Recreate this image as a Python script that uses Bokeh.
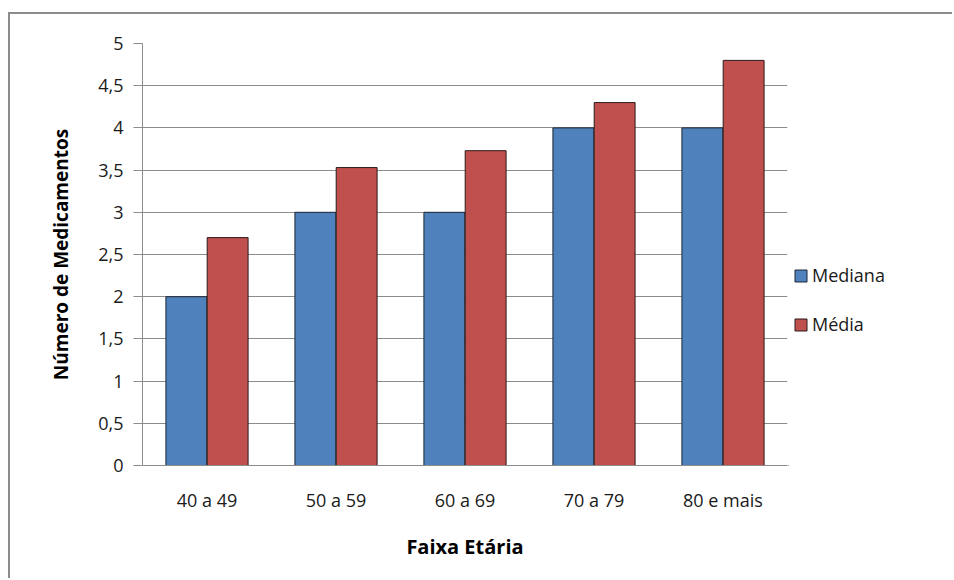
from bokeh.plotting import figure
from bokeh.layouts import row
from bokeh.models import (FactorRange, Range1d, FixedTicker, Legend, LegendItem,
                          ColumnDataSource)
from bokeh.transform import dodge
from bokeh.embed import file_html
from bokeh.resources import INLINE

categories = ["40 a 49", "50 a 59", "60 a 69", "70 a 79", "80 e mais"]
series_names = ["Mediana", "Média"]
mediana = [2, 3, 3, 4, 4]
media = [2.70, 3.53, 3.73, 4.30, 4.80]
y_ticks = [0, 0.5, 1, 1.5, 2, 2.5, 3, 3.5, 4, 4.5, 5]
y_tick_labels = ["0", "0,5", "1", "1,5", "2", "2,5", "3", "3,5", "4", "4,5", "5"]

BLUE, RED = "#4F81BD", "#C0504D"
BORDER = "2px solid #8c8c8c"

# main chart canvas origin on the page: x=10, y=14 (after CSS margin + border)
OX, OY = 10, 14
W1 = 790 - OX
H = 580 - OY
p = figure(x_range=FactorRange(*categories), y_range=Range1d(0, 5),
           width=W1, height=H, output_backend="svg", toolbar_location=None,
           min_border_left=142 - OX, min_border_right=(OX + W1) - 787,
           min_border_top=43 - OY, min_border_bottom=H - (465 - OY))
p.styles = {"border-top": BORDER, "border-left": BORDER,
            "margin-top": "12px", "margin-left": "8px"}
p.outline_line_color = None
p.background_fill_color = "white"
p.border_fill_color = "white"

src = ColumnDataSource(dict(cat=categories, mediana=mediana, media=media))
p.vbar(x=dodge("cat", -0.16, range=p.x_range), top="mediana", width=0.317,
       source=src, fill_color=BLUE, line_color="#1c2733", line_width=1)
p.vbar(x=dodge("cat", 0.16, range=p.x_range), top="media", width=0.317,
       source=src, fill_color=RED, line_color="#2a1a1a", line_width=1)

grid_gray = "#8c8c8c"
p.xgrid.grid_line_color = None
p.ygrid.grid_line_color = grid_gray
p.ygrid.grid_line_width = 1
p.yaxis.ticker = FixedTicker(ticks=y_ticks)
p.yaxis.major_label_overrides = {t: l for t, l in zip(y_ticks, y_tick_labels)}
p.yaxis.minor_tick_line_color = None
p.yaxis.major_tick_out = 9
p.yaxis.major_tick_in = 0
p.yaxis.axis_line_color = grid_gray
p.yaxis.major_tick_line_color = grid_gray
p.yaxis.major_label_standoff = 10
p.xaxis.axis_line_color = grid_gray
p.xaxis.major_tick_line_color = None
p.xaxis.minor_tick_line_color = None
p.xaxis.major_label_standoff = 16

for ax in (p.xaxis[0], p.yaxis[0]):
    ax.major_label_text_font = "Open Sans"
    ax.major_label_text_font_size = "18px"
    ax.major_label_text_color = "#1a1a1a"
    ax.axis_label_text_font = "Open Sans"
    ax.axis_label_text_font_style = "bold"
    ax.axis_label_text_color = "#000000"
p.yaxis.axis_label_text_font_size = "19px"
p.xaxis.axis_label_text_font_size = "20px"

p.xaxis.axis_label = "Faixa Etária"
p.xaxis.axis_label_standoff = 18
p.yaxis.axis_label = "Número de Medicamentos"
p.yaxis.axis_label_standoff = 21

# legend panel to the right of the chart
W2 = 954 - (OX + W1)
q = figure(x_range=Range1d(0, 1), y_range=Range1d(0, 1), width=W2, height=H,
           output_backend="svg", toolbar_location=None,
           min_border_left=0, min_border_right=0, min_border_top=0, min_border_bottom=0)
q.styles = {"border-top": BORDER, "margin-top": "12px"}
q.axis.visible = False
q.grid.visible = False
q.outline_line_color = None
q.background_fill_color = "white"
q.border_fill_color = "white"
# key renderers placed outside the visible range: only their legend swatches show
k1 = q.vbar(x=[-5], top=[0], width=0.1, fill_color=BLUE, line_color="#1c2733")
k2 = q.vbar(x=[-5], top=[0], width=0.1, fill_color=RED, line_color="#2a1a1a")

legend = Legend(items=[LegendItem(label=series_names[0], renderers=[k1]),
                       LegendItem(label=series_names[1], renderers=[k2])],
                location=(5, 129), orientation="vertical",
                padding=2, margin=0, spacing=25,
                glyph_width=15, glyph_height=15, label_standoff=4,
                label_text_font="Open Sans", label_text_font_size="18px",
                label_text_color="#1a1a1a", border_line_color=None,
                background_fill_alpha=0)
q.add_layout(legend, "center")

layout = row(p, q, spacing=0)
open("out.html", "w").write(file_html(layout, INLINE))
